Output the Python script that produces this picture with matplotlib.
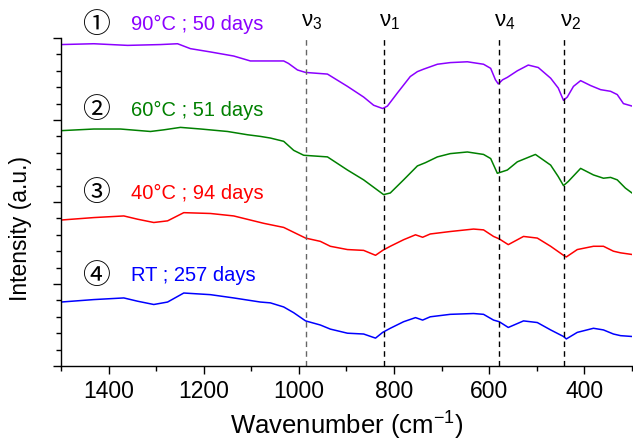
import matplotlib
matplotlib.use('Agg')
import matplotlib.pyplot as plt
from matplotlib.ticker import MultipleLocator

plt.rcParams['font.family'] = ['Liberation Sans', 'DejaVu Sans', 'Noto Sans CJK SC']
plt.rcParams['mathtext.default'] = 'regular'

# spectra, stacked (a.u.)
wn_90 = [1500, 1431, 1360, 1291, 1255, 1228, 1186, 1137, 1102, 1081, 1032, 1022, 1003, 986, 940,
         898, 864, 843, 824, 814, 793, 766, 751, 738, 709, 682, 646, 612, 597, 587,
         581, 572, 562, 541, 518, 497, 471, 455, 444, 436, 423, 408, 387, 366, 345,
         331, 318, 300]
int_90 = [3.92, 3.93, 3.91, 3.92, 3.93, 3.87, 3.83, 3.78, 3.72, 3.72, 3.72, 3.69, 3.61, 3.58, 3.56,
          3.41, 3.28, 3.18, 3.14, 3.17, 3.33, 3.53, 3.59, 3.62, 3.68, 3.70, 3.71, 3.68, 3.63, 3.49,
          3.44, 3.49, 3.52, 3.60, 3.67, 3.64, 3.51, 3.39, 3.24, 3.28, 3.41, 3.48, 3.42, 3.37, 3.35,
          3.31, 3.20, 3.17]

wn_60 = [1500, 1431, 1375, 1312, 1284, 1249, 1206, 1150, 1108, 1081, 1060, 1032, 1011, 990, 940,
         898, 864, 822, 808, 780, 751, 734, 709, 682, 646, 612, 597, 583, 562, 541,
         503, 471, 455, 444, 434, 408, 381, 360, 345, 331, 314, 300]
int_60 = [2.87, 2.89, 2.89, 2.86, 2.88, 2.91, 2.89, 2.86, 2.82, 2.80, 2.78, 2.74, 2.63, 2.57, 2.55,
          2.39, 2.27, 2.09, 2.11, 2.27, 2.44, 2.48, 2.55, 2.59, 2.61, 2.58, 2.53, 2.35, 2.39, 2.49,
          2.58, 2.45, 2.31, 2.20, 2.25, 2.41, 2.33, 2.29, 2.30, 2.27, 2.17, 2.11]

wn_40 = [1500, 1431, 1368, 1339, 1305, 1276, 1242, 1186, 1137, 1095, 1074, 1032, 986, 955, 934,
         898, 864, 839, 824, 808, 780, 755, 740, 724, 682, 633, 612, 591, 579, 560,
         528, 499, 471, 444, 438, 415, 381, 360, 339, 324, 300]
int_40 = [1.78, 1.81, 1.83, 1.79, 1.75, 1.77, 1.87, 1.86, 1.83, 1.77, 1.74, 1.69, 1.56, 1.52, 1.46,
          1.42, 1.41, 1.35, 1.41, 1.46, 1.54, 1.60, 1.57, 1.61, 1.64, 1.67, 1.66, 1.58, 1.55, 1.48,
          1.58, 1.56, 1.46, 1.35, 1.33, 1.42, 1.46, 1.46, 1.40, 1.38, 1.36]

wn_rt = [1500, 1431, 1368, 1339, 1305, 1276, 1242, 1186, 1137, 1081, 1060, 1032, 1011, 986, 955,
         934, 898, 864, 839, 824, 808, 780, 755, 740, 724, 682, 633, 612, 591, 579,
         560, 528, 499, 471, 444, 438, 415, 381, 360, 339, 324, 300]
int_rt = [0.78, 0.81, 0.83, 0.79, 0.75, 0.78, 0.89, 0.87, 0.83, 0.78, 0.77, 0.72, 0.65, 0.55, 0.50,
          0.45, 0.40, 0.39, 0.34, 0.41, 0.46, 0.54, 0.59, 0.56, 0.60, 0.63, 0.64, 0.63, 0.56, 0.54,
          0.47, 0.55, 0.53, 0.44, 0.36, 0.33, 0.41, 0.46, 0.44, 0.39, 0.37, 0.36]

series = [
    (wn_90, int_90, '#8B00FF', '\u2460', '90°C ; 50 days', 4.16),
    (wn_60, int_60, '#008000', '\u2461', '60°C ; 51 days', 3.12),
    (wn_40, int_40, '#FF0000', '\u2462', '40°C ; 94 days', 2.11),
    (wn_rt, int_rt, '#0000FF', '\u2463', 'RT ; 257 days', 1.10),
]

band_pos = [985, 822, 579, 442]
band_names = ['3', '1', '4', '2']

fig = plt.figure(figsize=(6.33, 4.42), dpi=100)
ax = fig.add_axes([61 / 633, 1 - 366 / 442, 571 / 633, 328 / 442])

for wn, inten, col, num, lab, ylab in series:
    ax.plot(wn, inten, color=col, lw=1.1)
    ax.text(1426, ylab, num, fontsize=20, ha='center', va='center', color='black',
            family=['Noto Sans CJK SC', 'DejaVu Sans'], clip_on=False)
    ax.text(1352, ylab, lab, fontsize=14.5, ha='left', va='center', color=col, clip_on=False)

for i, (pos, name) in enumerate(zip(band_pos, band_names)):
    c = '0.4' if i == 0 else 'black'
    ax.axvline(pos, color=c, ls=(0, (4, 3)), lw=1.0)
    ax.text(pos + 10, 4.2, r'$\nu_{%s}$' % name, fontsize=16, ha='left', va='center', clip_on=False)

ax.set_xlim(1500, 300)
ax.set_ylim(0, 4)
ax.xaxis.set_major_locator(MultipleLocator(200))
ax.xaxis.set_minor_locator(MultipleLocator(100))
ax.yaxis.set_major_locator(MultipleLocator(1))
ax.yaxis.set_minor_locator(MultipleLocator(0.2))
ax.set_yticklabels([])
ax.tick_params(which='major', direction='out', length=6, width=1, labelsize=16.5, pad=4)
ax.tick_params(which='minor', direction='out', length=3.5, width=1)

for s in ['top', 'right']:
    ax.spines[s].set_visible(False)
for s in ['left', 'bottom']:
    ax.spines[s].set_linewidth(1.0)

ax.set_xlabel('Wavenumber (cm$^{-1}$)', fontsize=18.5)
ax.set_ylabel('Intensity (a.u.)', fontsize=16.5)
ax.yaxis.set_label_coords(-0.05, 0.42)
ax.xaxis.set_label_coords(0.5, -0.135)

fig.savefig('out.png', dpi=100)
